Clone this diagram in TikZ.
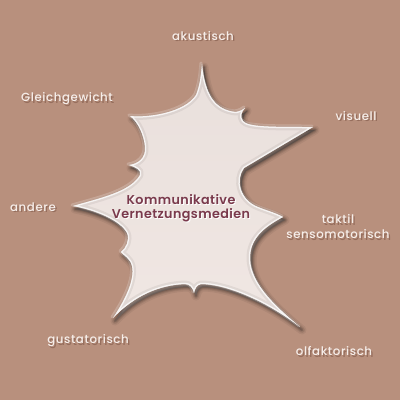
\documentclass[tikz,border=0pt]{standalone}
\usepackage{fontspec}
\setmainfont{Poppins}
\newfontfamily\labfont[LetterSpace=5]{Poppins Medium}
\newfontfamily\midfont[LetterSpace=3]{Poppins SemiBold}
\definecolor{bg}{RGB}{184,144,125}
\definecolor{shapefill}{RGB}{240,230,226}
\definecolor{shade}{RGB}{110,70,55}
\definecolor{labcol}{RGB}{246,238,234}
\definecolor{midcol}{RGB}{122,58,76}
\tikzset{
  lab/.style={font=\labfont\fontsize{11.8}{15}\selectfont, text=labcol, align=center, inner sep=0pt},
  labshadow/.style={font=\labfont\fontsize{11.8}{15}\selectfont, text=shade, text opacity=0.45, align=center, inner sep=0pt},
  mid/.style={font=\midfont\fontsize{12.8}{14}\selectfont, text=midcol, align=center, inner sep=0pt},
  midshadow/.style={font=\midfont\fontsize{12.8}{14}\selectfont, text=white, align=center, inner sep=0pt},
}
\def\starpath{(202,64) .. controls (205,95) and (215,110) .. (236,112)
  .. controls (240,111) and (243,110) .. (245,108)
  .. controls (241,112) and (240,117) .. (243,121)
  .. controls (248,127) and (270,127) .. (313,127)
  -- (244,168) .. controls (235,180) and (240,200) .. (258,207)
  .. controls (268,211) and (276,213) .. (283,217)
  .. controls (262,228) and (250,240) .. (250,258)
  .. controls (250,285) and (280,310) .. (300,327)
  .. controls (265,300) and (225,284) .. (201,284)
  .. controls (197,285) and (195,288) .. (194,293)
  .. controls (193,288) and (190,284) .. (185,284)
  .. controls (160,285) and (135,295) .. (113,318)
  .. controls (125,300) and (135,280) .. (132,266)
  .. controls (130,258) and (124,256) .. (121,252)
  .. controls (126,248) and (130,240) .. (127,233)
  .. controls (120,220) and (95,210) .. (73,206)
  .. controls (100,198) and (130,192) .. (140,175)
  .. controls (142,170) and (135,167) .. (129,165)
  .. controls (138,164) and (146,158) .. (145,147)
  .. controls (144,135) and (138,122) .. (130,116)
  .. controls (150,118) and (185,112) .. (196,95)
  .. controls (200,85) and (201,75) .. (202,64) -- cycle}
\begin{document}
\begin{tikzpicture}[x=1pt,y=-1pt]
\fill[bg] (0,0) rectangle (400,400);
\useasboundingbox (0,0) rectangle (400,400);
% soft shadow
\foreach \w/\o in {9/0.06,6/0.08,4/0.1,2/0.12}{
  \filldraw[shade, opacity=\o, line width=\w pt, line join=round, shift={(2,3)}] \starpath;
}
% light rim outside (upper-left)
\draw[white, opacity=0.2, line width=3pt, line join=round, shift={(-1,-1)}] \starpath;
% shape
\fill[shapefill] \starpath;
\begin{scope}
  \clip \starpath;
  \draw[shade, opacity=0.06, line width=7pt, line join=round] \starpath;
  \draw[white, opacity=0.75, line width=2.5pt, line join=round] \starpath;
\end{scope}
% centre text
\node[midshadow] (cs) at (182,209.5) {Kommunikative\\Vernetzungsmedien};
\node[mid] (c) at (181,208) {Kommunikative\\Vernetzungsmedien};
% labels
\node[labshadow] (s1) at (204.5,37.5) {akustisch};
\node[lab] (l1) at (203,36) {akustisch};
\node[labshadow] (s2) at (68.5,100.5) {Gleichgewicht};
\node[lab] (l2) at (67,99) {Gleichgewicht};
\node[labshadow] (s3) at (357.5,117.5) {visuell};
\node[lab] (l3) at (356,116) {visuell};
\node[labshadow] (s4) at (34.5,208.5) {andere};
\node[lab] (l4) at (33,207) {andere};
\node[labshadow] (s5) at (339.5,228.5) {taktil\\sensomotorisch};
\node[lab] (l5) at (338,227) {taktil\\sensomotorisch};
\node[labshadow] (s6) at (89.5,342.5) {gustatorisch};
\node[lab] (l6) at (88,341) {gustatorisch};
\node[labshadow] (s7) at (335.5,352.5) {olfaktorisch};
\node[lab] (l7) at (334,351) {olfaktorisch};
\end{tikzpicture}
\end{document}
